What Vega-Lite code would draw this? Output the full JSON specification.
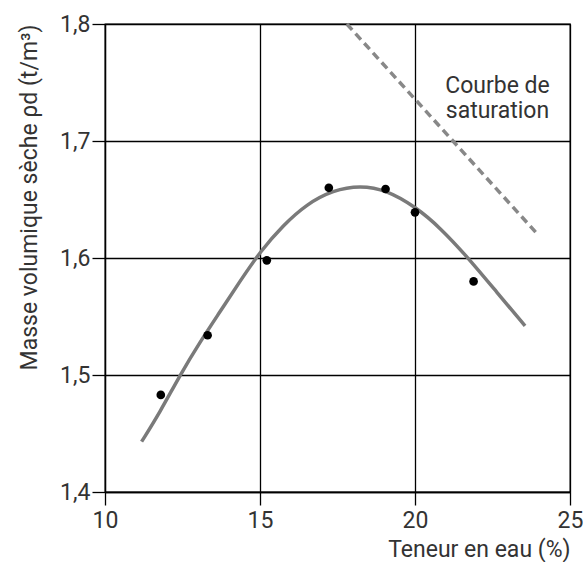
{
  "$schema": "https://vega.github.io/schema/vega-lite/v6.json",
  "width": 465,
  "height": 468,
  "autosize": {"type": "none"},
  "padding": {"left": 105, "top": 24, "right": 13, "bottom": 70},
  "background": "white",
  "config": {
    "view": {"stroke": "black", "strokeWidth": 1.3},
    "font": "Roboto",
    "axis": {
      "domainColor": "black", "domainWidth": 1.3,
      "gridColor": "black", "gridWidth": 1.3, "gridOpacity": 1,
      "tickColor": "black", "tickWidth": 1.3, "tickSize": 13,
      "labelFont": "Roboto", "labelFontSize": 23, "labelColor": "#333", "labelFlush": false,
      "titleFont": "Roboto", "titleFontSize": 23, "titleFontWeight": "normal", "titleColor": "#333"
    }
  },
  "datasets": {
    "pts": [
      {"w": 11.80, "rho": 1.483},
      {"w": 13.31, "rho": 1.534},
      {"w": 15.22, "rho": 1.598},
      {"w": 17.22, "rho": 1.660},
      {"w": 19.05, "rho": 1.659},
      {"w": 20.00, "rho": 1.639},
      {"w": 21.89, "rho": 1.580}
    ],
    "curve": [
      {"w": 11.18, "rho": 1.443},
      {"w": 11.77, "rho": 1.468},
      {"w": 12.42, "rho": 1.500},
      {"w": 13.06, "rho": 1.528},
      {"w": 13.71, "rho": 1.554},
      {"w": 14.35, "rho": 1.580},
      {"w": 15.02, "rho": 1.606},
      {"w": 15.75, "rho": 1.628},
      {"w": 16.50, "rho": 1.646},
      {"w": 17.36, "rho": 1.658},
      {"w": 18.23, "rho": 1.662},
      {"w": 19.09, "rho": 1.658},
      {"w": 20.00, "rho": 1.644},
      {"w": 20.81, "rho": 1.626},
      {"w": 21.72, "rho": 1.600},
      {"w": 22.63, "rho": 1.571},
      {"w": 23.55, "rho": 1.542}
    ],
    "sat": [
      {"w": 17.80, "rho": 1.800},
      {"w": 23.93, "rho": 1.621}
    ],
    "lab": [
      {"w": 22.66, "rho": 1.747, "t": ["Courbe de", "saturation"]}
    ]
  },
  "encoding": {
    "x": {
      "field": "w", "type": "quantitative",
      "scale": {"domain": [10, 25], "nice": false, "zero": false},
      "axis": {"values": [10, 15, 20, 25], "title": "Teneur en eau (%)", "titleAnchor": "end", "titlePadding": 6, "labelPadding": 4}
    },
    "y": {
      "field": "rho", "type": "quantitative",
      "scale": {"domain": [1.4, 1.8], "nice": false, "zero": false},
      "axis": {"values": [1.4, 1.5, 1.6, 1.7, 1.8], "title": "Masse volumique sèche ρd (t/m³)", "titleAnchor": "end", "titlePadding": 18, "labelExpr": "replace(format(datum.value, '.1f'), '.', ',')", "labelPadding": 2}
    }
  },
  "layer": [
    {
      "data": {"name": "sat"},
      "mark": {"type": "line", "color": "#888", "strokeWidth": 3.5, "strokeDash": [8, 5]},
      "encoding": {}
    },
    {
      "data": {"name": "curve"},
      "mark": {"type": "line", "color": "#7a7a7a", "strokeWidth": 3.5, "interpolate": "basis"},
      "encoding": {}
    },
    {
      "data": {"name": "pts"},
      "mark": {"type": "point", "filled": true, "color": "black", "size": 75, "opacity": 1},
      "encoding": {}
    },
    {
      "data": {"name": "lab"},
      "mark": {"type": "text", "font": "Roboto", "fontSize": 23, "color": "#333", "align": "center", "baseline": "middle", "lineHeight": 25},
      "encoding": {"text": {"field": "t"}}
    }
  ]
}
